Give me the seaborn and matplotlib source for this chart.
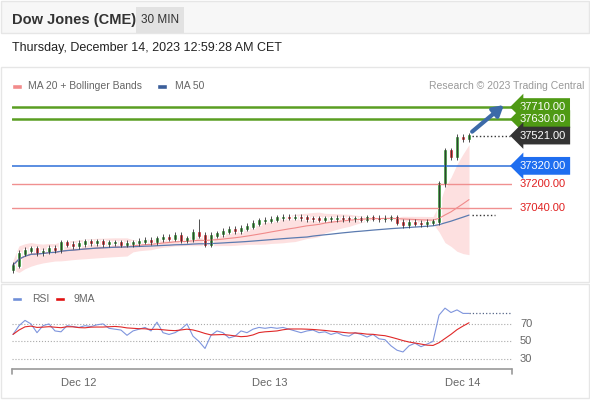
import matplotlib
matplotlib.use("Agg")
import matplotlib.pyplot as plt
import matplotlib.patches as mpatches
import numpy as np
import pandas as pd
import seaborn as sns

# closes per 30-min candle
closes = [36662, 36740, 36760, 36770, 36745, 36755, 36775, 36765, 36810, 36800,
          36790, 36805, 36815, 36810, 36815, 36805, 36810, 36810, 36800, 36805,
          36810, 36820, 36825, 36815, 36835, 36845, 36840, 36860, 36825, 36835,
          36880, 36860, 36800, 36860, 36870, 36885, 36900, 36890, 36905, 36920,
          36940, 36955, 36960, 36965, 36975, 36980, 36978, 36978, 36975, 36970,
          36968, 36965, 36968, 36970, 36972, 36970, 36968, 36970, 36965, 36975,
          36972, 36968, 36972, 36975, 36945, 36930, 36945, 36940, 36935, 36945,
          36950, 37200, 37420, 37380, 37510, 37500, 37521]
rsi = [58, 68, 74, 70, 60, 68, 70, 62, 61, 68, 67, 66, 68, 67, 69, 70, 65, 64, 63, 57,
       62, 64, 66, 62, 72, 60, 58, 60, 64, 70, 56, 50, 42, 57, 62, 60, 54, 56, 62, 60,
       64, 66, 65, 66, 65, 66, 64, 62, 60, 62, 63, 60, 61, 58, 60, 57, 56, 60, 58, 55,
       58, 53, 52, 45, 40, 38, 45, 48, 44, 47, 50, 80, 88, 83, 86, 82, 82]
levels_green = [37710, 37630]
level_blue = 37320
levels_red = [37200, 37040]
last_price = 37521
date_labels = ["Dec 12", "Dec 13", "Dec 14"]
date_pos = [11, 42.8, 75]

W, H = 590, 400
df = pd.DataFrame({"i": np.arange(len(closes)), "close": closes, "rsi": rsi})
df["open"] = df["close"].shift(1).fillna(df["close"].iloc[0] - 30)
df["ma20"] = df["close"].rolling(20, min_periods=1).mean()
sd = df["close"].rolling(20, min_periods=2).std().fillna(20)
df["up"] = df["ma20"] + 1.6 * sd
df["lo"] = df["ma20"] - 1.6 * sd
df["ma50"] = df["close"].rolling(50, min_periods=1).mean()
df["rsi9"] = df["rsi"].rolling(9, min_periods=1).mean()

sns.set_style("white")
plt.rcParams["font.family"] = ["Liberation Sans", "DejaVu Sans"]
fig = plt.figure(figsize=(W / 100, H / 100), dpi=100)

def px_axes(x0, y0, x1, y1):
    return fig.add_axes([x0 / W, 1 - y1 / H, (x1 - x0) / W, (y1 - y0) / H])

def i_of(x):
    return (x - 13) / 6.0

# frame / header
bg = px_axes(0, 0, W, H)
bg.set_xlim(0, W); bg.set_ylim(H, 0); bg.axis("off")
bg.add_patch(mpatches.Rectangle((1, 1), W - 2, 32, fc="#f7f7f7", ec="#e6e6e6"))
bg.add_patch(mpatches.Rectangle((136, 7), 48, 26, fc="#e2e2e2", ec="none"))
bg.text(12, 20, "Dow Jones (CME)", fontsize=10.5, fontweight="bold", color="#333333", va="center")
bg.text(160, 20, "30 MIN", fontsize=8.5, color="#333333", va="center", ha="center")
bg.text(12, 48, "Thursday, December 14, 2023 12:59:28 AM CET", fontsize=9, color="#222222", va="center")
bg.add_patch(mpatches.Rectangle((1, 67), W - 2, 215, fc="none", ec="#e6e6e6"))
bg.add_patch(mpatches.Rectangle((1, 284), W - 2, 114, fc="none", ec="#e6e6e6"))
bg.add_patch(mpatches.Rectangle((12, 84), 10, 5, fc="#f28b8b"))
bg.text(28, 86, "MA 20 + Bollinger Bands", fontsize=7.5, color="#666666", va="center")
bg.add_patch(mpatches.Rectangle((157, 84), 10, 5, fc="#3b5e9a"))
bg.text(175, 86, "MA 50", fontsize=7.5, color="#666666", va="center")
bg.text(584, 86, "Research \u00a9 2023 Trading Central", fontsize=7.5, color="#999999", va="center", ha="right")
bg.add_patch(mpatches.Rectangle((12, 297), 10, 4, fc="#6f8fd8"))
bg.text(32, 299, "RSI", fontsize=7.5, color="#666666", va="center")
bg.add_patch(mpatches.Rectangle((55, 297), 10, 4, fc="#e01010"))
bg.text(73, 299, "9MA", fontsize=7.5, color="#666666", va="center")

# price panel
ax = px_axes(12, 95, 512, 275)
ax.set_xlim(i_of(12), i_of(512)); ax.set_ylim(36596, 37790)
ax.axis("off")
ax.fill_between(df["i"], df["lo"], df["up"], color="#fde0e0", lw=0)
sns.lineplot(data=df, x="i", y="ma20", ax=ax, color="#f08a8a", lw=0.8)
sns.lineplot(data=df, x="i", y="ma50", ax=ax, color="#5b7bb0", lw=0.9)
for lv in levels_green:
    ax.axhline(lv, color="#5a9e22", lw=1.8)
ax.axhline(level_blue, color="#2d6fd8", lw=1.1)
for lv in levels_red:
    ax.axhline(lv, color="#f09090", lw=1.0)
colors = np.where(df["close"] >= df["open"], "#2e8b2e", "#c8262c")
body_lo = np.minimum(df["open"], df["close"]) - 10
body_hi = np.maximum(df["open"], df["close"]) + 10
hi = body_hi + 10
lo = body_lo - 10
hi[31] = 36970
ax.vlines(df["i"], lo, hi, colors="#333333", lw=0.6)
ax.bar(df["i"], body_hi - body_lo, bottom=body_lo, width=0.65, color=colors)
n = len(df) - 1
ax.plot([n + 0.5, i_of(512)], [last_price] * 2, ls=":", color="#333333", lw=1)
ax.plot([n + 0.5, i_of(495)], [df["ma50"].iloc[-1]] * 2, ls=":", color="#333333", lw=1)
ax.annotate("", xy=(i_of(506), 37735), xytext=(i_of(470), 37535),
            arrowprops=dict(arrowstyle="-|>,head_width=0.35,head_length=0.6", color="#3c6aa8", lw=3))

def tag(y, text, fc, tc="white", box=True):
    kw = dict(boxstyle="larrow,pad=0.35", fc=fc, ec="none") if box else None
    ax.text(i_of(520), y, text, fontsize=8, color=tc, va="center", ha="left",
            bbox=kw, clip_on=False)

tag(levels_green[0], "37710.00", "#4f9a14")
tag(levels_green[1], "37630.00", "#4f9a14")
tag(last_price, "37521.00", "#333333")
tag(level_blue, "37320.00", "#1f6ef0")
tag(levels_red[0], "37200.00", None, "#e02020", box=False)
tag(levels_red[1], "37040.00", None, "#e02020", box=False)

# RSI panel
ax2 = px_axes(12, 295, 512, 368)
ax2.set_xlim(i_of(12), i_of(512)); ax2.set_ylim(19.7, 103)
ax2.axis("off")
for lv in [70, 50, 30]:
    ax2.axhline(lv, ls=":", color="#aaaaaa", lw=0.8)
    ax2.text(i_of(520), lv, str(lv), fontsize=8, color="#666666", va="center", clip_on=False)
sns.lineplot(data=df, x="i", y="rsi", ax=ax2, color="#7f95dd", lw=0.8)
sns.lineplot(data=df, x="i", y="rsi9", ax=ax2, color="#e02828", lw=0.8)
ax2.plot([n, i_of(512)], [rsi[-1]] * 2, ls=":", color="#556688", lw=0.9)

# date axis
bg.plot([12, 512], [369, 369], color="#999999", lw=1.2)
bg.plot([12, 12], [369, 374], color="#999999", lw=1.2)
bg.plot([512, 512], [369, 374], color="#999999", lw=1.2)
for lab, pos in zip(date_labels, date_pos):
    bg.text(13 + pos * 6, 383, lab, fontsize=8, color="#666666", ha="center", va="center")

fig.savefig("out.png", dpi=100)
